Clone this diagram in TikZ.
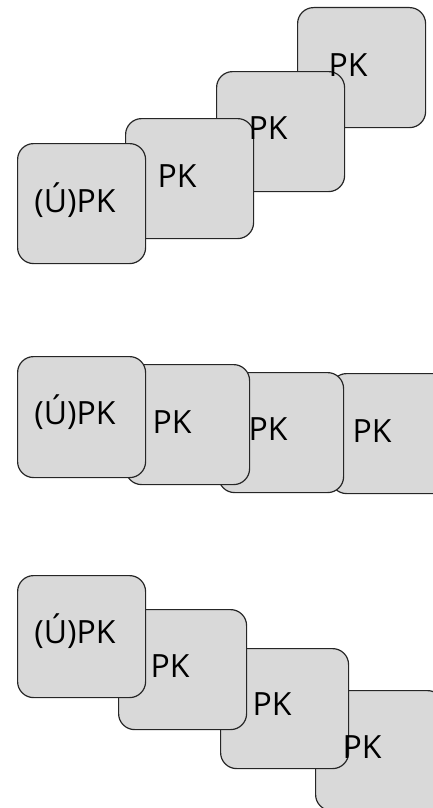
\documentclass[tikz,border=0pt]{standalone}
\usepackage{fontspec}
\setmainfont{Open Sans}
\definecolor{cardgray}{RGB}{217,217,217}

\begin{document}
\begin{tikzpicture}[x=1pt, y=-1pt,
	card/.style={draw=black!85, line width=1.2pt, fill=cardgray, rounded corners=16pt,
		anchor=north west, minimum width=128pt, minimum height=120pt, inner sep=0pt},
	lbl/.style={anchor=base, inner sep=0pt, font=\fontsize{32}{38}\selectfont}]
	\useasboundingbox (0, 0) rectangle (433, 808);
	\clip (0, 0) rectangle (433, 808);

	% rising stack
	\node[card] (d1) at (297, 7) {};
	\node[card] (c1) at (216, 71) {};
	\node[card] (b1) at (125, 118) {};
	\node[card] (a1) at (17, 143) {};
	\node[lbl] (td1) at (348, 76) {PK};
	\node[lbl] (tc1) at (268, 139) {PK};
	\node[lbl] (tb1) at (177, 187) {PK};
	\node[lbl] (ta1) at (75, 212) {(Ú)PK};

	% flat row
	\node[card, minimum width=128pt] (d2) at (330, 373) {};
	\node[card, minimum width=125pt] (c2) at (218, 372) {};
	\node[card, minimum width=124pt] (b2) at (125, 364) {};
	\node[card, minimum height=121pt] (a2) at (17, 356) {};
	\node[lbl] (td2) at (372, 442) {PK};
	\node[lbl] (tc2) at (268, 440) {PK};
	\node[lbl] (tb2) at (172, 433) {PK};
	\node[lbl] (ta2) at (75, 424) {(Ú)PK};

	% falling stack
	\node[card] (d3) at (315, 690) {};
	\node[card] (c3) at (220, 648) {};
	\node[card] (b3) at (118, 609) {};
	\node[card, minimum height=122pt] (a3) at (17, 575) {};
	\node[lbl] (td3) at (362, 758) {PK};
	\node[lbl] (tc3) at (272, 715) {PK};
	\node[lbl] (tb3) at (170, 677) {PK};
	\node[lbl] (ta3) at (75, 643) {(Ú)PK};
\end{tikzpicture}
\end{document}
